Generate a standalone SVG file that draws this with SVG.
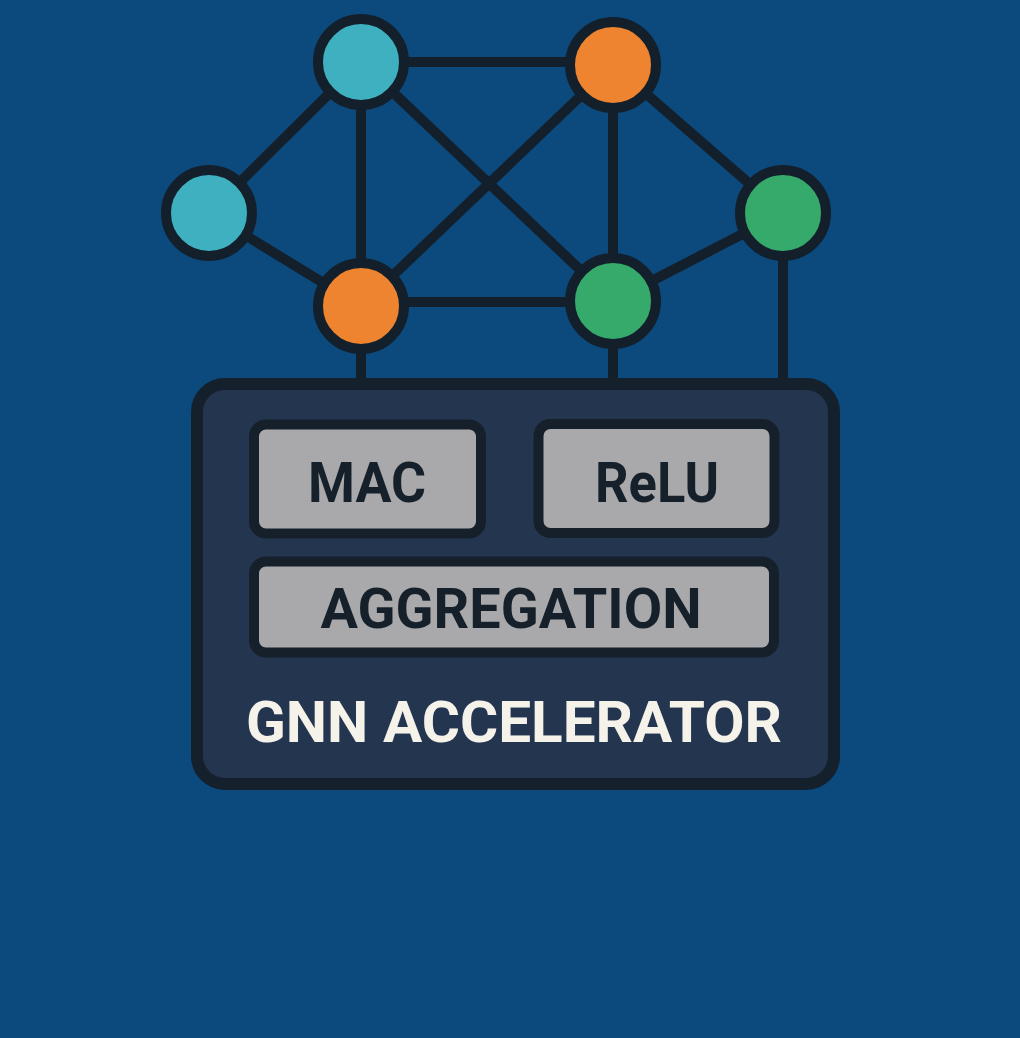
<svg xmlns="http://www.w3.org/2000/svg" width="1020" height="1038" viewBox="0 0 1020 1038">
<style>
.edge{stroke:#13202b;stroke-width:10;stroke-linecap:butt;fill:none}
.node{stroke:#13202b;stroke-width:10}
.cyan{fill:#3fb0c0}
.orange{fill:#ee8430}
.green{fill:#36aa6b}
.unit{fill:#a9a9ab;stroke:#15202a;stroke-width:10}
.ulabel{font-family:Roboto,"Liberation Sans",sans-serif;font-weight:700;font-size:56px;fill:#15202a;text-anchor:middle}
.title{font-family:Roboto,"Liberation Sans",sans-serif;font-weight:700;font-size:58px;fill:#f5f2ea;text-anchor:middle}
</style>
<rect width="1020" height="1038" fill="#0c497c"/>
<g id="connectors">
<line class="edge" x1="361" y1="62" x2="613" y2="62"/>
<line class="edge" x1="361" y1="62" x2="209" y2="213"/>
<line class="edge" x1="361" y1="62" x2="361" y2="306"/>
<line class="edge" x1="361" y1="62" x2="613" y2="301"/>
<line class="edge" x1="613" y1="65" x2="361" y2="306"/>
<line class="edge" x1="613" y1="65" x2="613" y2="301"/>
<line class="edge" x1="613" y1="65" x2="783" y2="213"/>
<line class="edge" x1="209" y1="213" x2="361" y2="306"/>
<line class="edge" x1="361" y1="302" x2="613" y2="302"/>
<line class="edge" x1="613" y1="301" x2="783" y2="213"/>
<line class="edge" x1="361" y1="306" x2="361" y2="384"/>
<line class="edge" x1="613" y1="301" x2="613" y2="384"/>
<line class="edge" x1="783" y1="213" x2="783" y2="384"/>
</g>
<g id="node-top-left"><circle class="node cyan" cx="361" cy="62" r="43"/></g>
<g id="node-top-right"><circle class="node orange" cx="613" cy="65" r="43"/></g>
<g id="node-left"><circle class="node cyan" cx="209" cy="213" r="43"/></g>
<g id="node-bottom-left"><circle class="node orange" cx="361" cy="306" r="43"/></g>
<g id="node-bottom-right"><circle class="node green" cx="613" cy="301" r="43"/></g>
<g id="node-right"><circle class="node green" cx="783" cy="213" r="43"/></g>
<g id="accelerator">
<rect x="197" y="384" width="637" height="400" rx="28" fill="#243550" stroke="#14202b" stroke-width="12"/>
<text class="title" x="514" y="742" textLength="536" lengthAdjust="spacingAndGlyphs">GNN ACCELERATOR</text>
</g>
<g id="mac">
<rect class="unit" x="254" y="424.5" width="227" height="109" rx="12"/>
<text class="ulabel" x="367" y="502" textLength="118" lengthAdjust="spacingAndGlyphs">MAC</text>
</g>
<g id="relu">
<rect class="unit" x="538.5" y="424" width="236" height="109" rx="12"/>
<text class="ulabel" x="657" y="502" textLength="124" lengthAdjust="spacingAndGlyphs">ReLU</text>
</g>
<g id="aggregation">
<rect class="unit" x="254" y="561.5" width="520" height="91" rx="12"/>
<text class="ulabel" x="511" y="628" textLength="381" lengthAdjust="spacingAndGlyphs">AGGREGATION</text>
</g>
</svg>
